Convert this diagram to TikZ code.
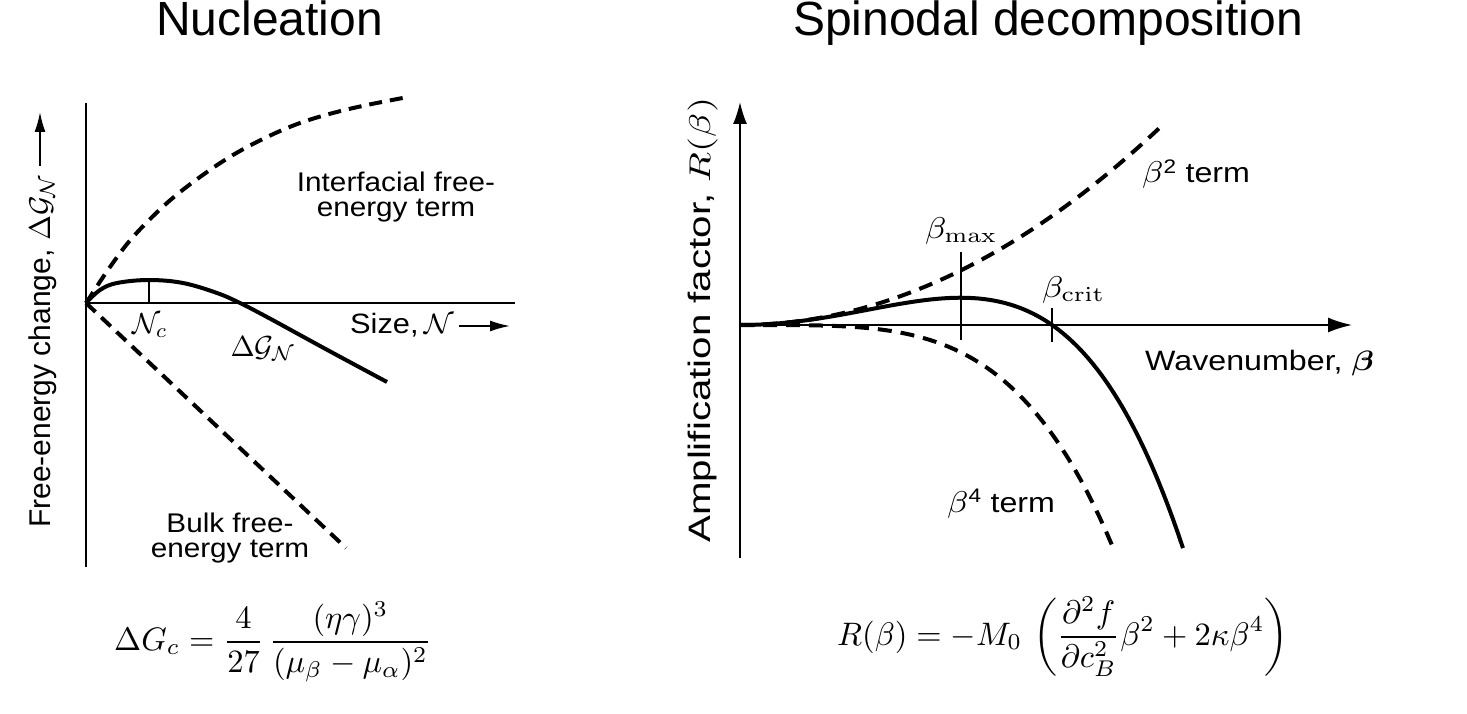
\documentclass[tikz,border=0pt]{standalone}
\usepackage{amsmath}
\usepackage[no-math]{fontspec}
\usepackage{graphicx}
\usetikzlibrary{arrows.meta}
\newfontfamily\hv{Liberation Sans}
\newcommand\sxr[1]{\scalebox{1.15}[1]{#1}}
\newcommand\mth[2]{\scalebox{#1}{\normalsize$#2$}}
\newcommand\twoline[2]{\scalebox{1.1}[1]{\vtop{\baselineskip=25pt\lineskiplimit=-100pt\halign{\hfil##\hfil\cr#1\cr#2\cr}}}}
\begin{document}
\begin{tikzpicture}[x=1pt,y=-1pt,
  lab/.style={inner sep=0pt, font=\hv\fontsize{27}{25}\selectfont},
  rlab/.style={inner sep=0pt, font=\hv\fontsize{28}{30}\selectfont},
  mathlab/.style={inner sep=0pt},
  ttl/.style={inner sep=0pt, font=\hv\fontsize{48}{50}\selectfont},
  axisl/.style={line width=2pt},
  axisr/.style={line width=1.6pt},
  curve/.style={line width=4pt},
  dcurve/.style={line width=4pt, dash pattern=on 13pt off 8pt},
  tickm/.style={line width=1.5pt},
  arr/.style={line width=1.8pt, -{Latex[length=20pt,width=11pt]}}]
\useasboundingbox (0,0) rectangle (1467,714);
\fill[white] (0,0) rectangle (1467,714);

% titles
\node[ttl, anchor=base west] (t1) at (156,36) {Nucleation};
\node[ttl, anchor=base west] (t2) at (793,36) {Spinodal decomposition};

% ---------------- left plot ----------------
\coordinate (O1) at (86,303);
\coordinate (Ltop) at (86,103);
\coordinate (Lbot) at (86,567);
\coordinate (Lright) at (515,303);
\draw[axisl] (Ltop) -- (Lbot);
\draw[line width=2.5pt] (O1) -- (Lright);

\draw[dcurve] plot[smooth, tension=0.6] coordinates {(86,303) (90,297) (110,267) (133,237) (167,203) (200,177) (233,155) (267,137) (300,123) (333,113) (367,105) (408,97)};
\draw[curve] plot[smooth, tension=0.6] coordinates {(86,303) (100,290) (117,283) (149,280) (183,283) (217,293) (240,303) (267,317) (300,335) (333,353) (387,382)};
\coordinate (Bend) at (346,548);
\draw[dcurve] (O1) -- (Bend);
\coordinate (Nc1) at (149,280);
\coordinate (Nc2) at (149,303);
\draw[tickm] (Nc1) -- (Nc2);

\node[mathlab, anchor=base] (Nc) at (150,333) {\mth{2.9}{\mathcal{N}_c}};
\node[mathlab, anchor=base] (dG) at (263,356) {\mth{2.9}{\Delta\mathcal{G}_{\mathcal{N}}}};
\node[lab, font=\hv\fontsize{28}{28}\selectfont, anchor=base west] (size) at (350,333) {\scalebox{1.1}[1]{Size,\,\mth{2.8}{\mathcal{N}}}};
\coordinate (sa2) at (510,326);
\draw[arr] ([xshift=5pt,yshift=7pt]size.base east) -- (sa2);

\node[lab, anchor=base] (intf) at (396,192) {\twoline{Interfacial free-}{energy term}};
\node[lab, anchor=base] (bulk) at (230,532) {\twoline{Bulk free-}{energy term}};

\node[lab, font=\hv\fontsize{30}{30}\selectfont, rotate=90, anchor=base west] (ylab1) at (50,528) {Free-energy change, \mth{3.0}{\Delta\mathcal{G}_{\mathcal{N}}}};
\coordinate (ya2) at (40,112);
\draw[arr] ([xshift=-10pt,yshift=8pt]ylab1.base east) -- (ya2);

\node[mathlab, anchor=base west] (fl) at (114,650) {\mth{3.25}{\displaystyle \Delta G_c = \frac{4}{27}\,\frac{(\eta\gamma)^3}{(\mu_\beta-\mu_\alpha)^2}}};

% ---------------- right plot ----------------
\coordinate (O2) at (740,325);
\coordinate (Rbot) at (740,558);
\coordinate (Rtop) at (740,102);
\coordinate (Rright) at (1352,325);
\draw[axisr, -{Latex[length=22pt,width=14pt]}] (Rbot) -- (Rtop);
\draw[axisr, -{Latex[length=24pt,width=15pt]}] (O2) -- (Rright);

\draw[dcurve, dash pattern=on 14pt off 9pt] plot[domain=0:4.2, samples=60] ({740+100*\x},{325-11.2*\x*\x});
\draw[dcurve, dash pattern=on 14pt off 9pt] plot[domain=0:3.72, samples=60] ({740+100*\x},{325+1.15*\x*\x*\x*\x});
\draw[curve] plot[domain=0:4.43, samples=90] ({740+100*\x},{325-11.2*\x*\x+1.15*\x*\x*\x*\x});

\coordinate (bm1) at (961,252);
\coordinate (bm2) at (961,340);
\coordinate (bc1) at (1052,308);
\coordinate (bc2) at (1052,342);
\draw[tickm] (bm1) -- (bm2);
\draw[tickm] (bc1) -- (bc2);

\node[rlab, anchor=base west] (bmax) at (925,238) {\sxr{\mth{3.0}{\beta_{\mathrm{max}}}}};
\node[rlab, anchor=base west] (bcrit) at (1042,297) {\sxr{\mth{3.0}{\beta_{\mathrm{crit}}}}};
\node[rlab, anchor=base west] (b2) at (1142,183) {\sxr{\mth{3.0}{\beta}\textsuperscript{2} term}};
\node[rlab, anchor=base west] (b4) at (947,512) {\sxr{\mth{3.0}{\beta}\textsuperscript{4} term}};
\node[rlab, anchor=base west] (wn) at (1145,370) {\sxr{Wavenumber, \mth{2.8}{\boldsymbol{\beta}}}};
\node[rlab, font=\hv\fontsize{31}{31}\selectfont, rotate=90, anchor=base west] (ylab2) at (710,543) {\scalebox{1.3}[1]{Amplification factor, \mth{3.0}{R(\beta)}}};

\node[mathlab, anchor=base west] (fr) at (837,645) {\mth{3.25}{\displaystyle R(\beta) = -M_0\,\left(\frac{\partial^2 f}{\partial c_B^2}\beta^2 + 2\kappa\beta^4\right)}};
\end{tikzpicture}
\end{document}
